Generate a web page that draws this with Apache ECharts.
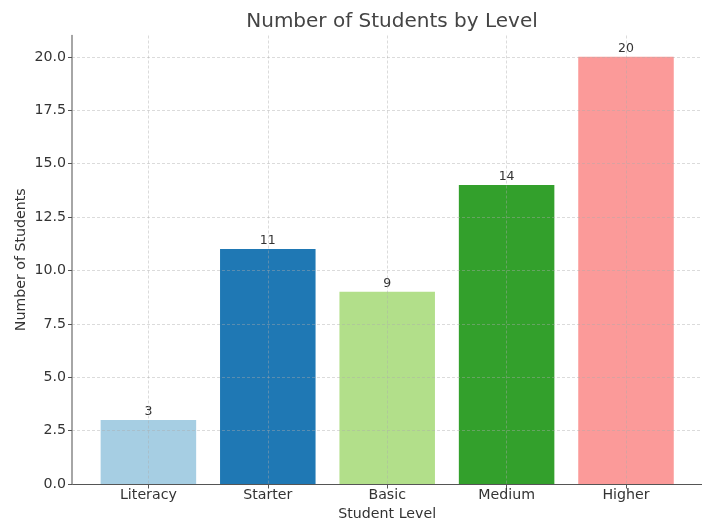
<!DOCTYPE html>
<html>
<head>
<meta charset="utf-8">
<title>Number of Students by Level</title>
<script src="https://cdn.jsdelivr.net/npm/echarts@6/dist/echarts.min.js"></script>
<style>
  html, body { margin: 0; padding: 0; background: #fff; }
  #chart { width: 702px; height: 522px; }
</style>
</head>
<body>
<div id="chart"></div>
<script>
// Student counts per level
const levels = ['Literacy', 'Starter', 'Basic', 'Medium', 'Higher'];
const studentCounts = [3, 11, 9, 14, 20];
const yTicks = [0, 2.5, 5, 7.5, 10, 12.5, 15, 17.5, 20];

// Paired palette, one colour per level
const palette = ['#a6cee3', '#1f78b4', '#b2df8a', '#33a02c', '#fb9a99'];

const FONT = '"DejaVu Sans", sans-serif';
const Y_MAX = 21;
const gridLine = { show: true, lineStyle: { color: 'rgba(170,170,170,0.48)', width: 0.9, type: [3, 2] } };

const chart = echarts.init(document.getElementById('chart'), null, { renderer: 'canvas' });

chart.setOption({
  animation: false,
  backgroundColor: '#fff',
  title: {
    text: 'Number of Students by Level',
    left: 387, textAlign: 'center', top: 7,
    textStyle: { fontFamily: FONT, fontSize: 20, fontWeight: 'normal', color: '#444' }
  },
  grid: [
    // full axes frame (spines, horizontal grid)
    { left: 72, right: -0.5, top: 35.5, bottom: 38, outerBoundsMode: 'none', containLabel: false },
    // frame spanning first to last category centre
    { left: 148.4, right: 76, top: 35.5, bottom: 38, outerBoundsMode: 'none', containLabel: false }
  ],
  xAxis: [
    {
      gridIndex: 0, type: 'value', min: 0, max: 1,
      axisLine: { show: true, onZero: false, lineStyle: { color: '#555', width: 1.2 } },
      axisTick: { show: false }, axisLabel: { show: false }, splitLine: { show: false }
    },
    {
      gridIndex: 1, type: 'category', data: levels, boundaryGap: false, z: 5,
      axisLine: { show: false },
      axisTick: { show: true, length: 4.5, lineStyle: { color: '#555', width: 1 } },
      axisLabel: { margin: 4, fontFamily: FONT, fontSize: 14.2, color: '#333' },
      splitLine: gridLine,
      name: 'Student Level', nameLocation: 'middle', nameGap: 23, nameMoveOverlap: false,
      nameTextStyle: { fontFamily: FONT, fontSize: 14.2, color: '#333' }
    }
  ],
  yAxis: [
    {
      gridIndex: 0, type: 'value', min: 0, max: Y_MAX, interval: 2.5, z: 5,
      axisLine: { show: true, lineStyle: { color: '#888', width: 1.5 } },
      axisTick: { show: true, length: 4, lineStyle: { color: '#555', width: 1 } },
      axisLabel: {
        margin: 6, fontFamily: FONT, fontSize: 14.2, color: '#333', showMaxLabel: false,
        formatter: v => (yTicks.indexOf(v) >= 0 ? v.toFixed(1) : '')
      },
      splitLine: Object.assign({ showMaxLine: false, showMinLine: false }, gridLine),
      name: 'Number of Students', nameLocation: 'middle', nameGap: 44, nameMoveOverlap: false,
      nameTextStyle: { fontFamily: FONT, fontSize: 14.2, color: '#333' }
    },
    {
      gridIndex: 1, type: 'value', min: 0, max: Y_MAX, show: false, splitLine: { show: false }
    }
  ],
  series: [{
    type: 'bar',
    xAxisIndex: 1, yAxisIndex: 1,
    barWidth: '80%',
    clip: false,
    z: 2,
    data: studentCounts.map((v, i) => ({ value: v, itemStyle: { color: palette[i] } })),
    label: {
      show: true, position: 'top', distance: 2,
      fontFamily: FONT, fontSize: 12.5, color: '#333'
    }
  }]
});
</script>
</body>
</html>
